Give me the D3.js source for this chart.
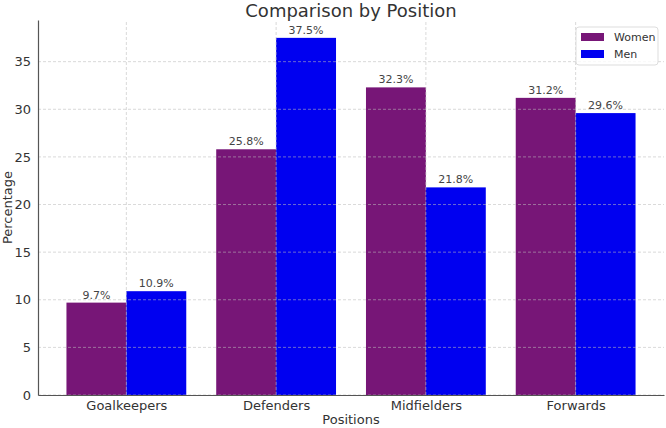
<!DOCTYPE html>
<html>
<head>
<meta charset="utf-8">
<script src="https://cdn.jsdelivr.net/npm/d3@7"></script>
<style>
  body { margin: 0; background: #fff; }
  svg { display: block; font-family: "DejaVu Sans", sans-serif; }
</style>
</head>
<body>
<div id="chart"></div>
<script>
var positions = ["Goalkeepers", "Defenders", "Midfielders", "Forwards"];
var women = [9.7, 25.8, 32.3, 31.2];
var men = [10.9, 37.5, 21.8, 29.6];
var yTicks = [0, 5, 10, 15, 20, 25, 30, 35];
var seriesNames = ["Women", "Men"];

var width = 666, height = 428;
var margin = { top: 20, right: 2, bottom: 33, left: 38 };
var colors = ["#771677", "#0000f0"];

var svg = d3.select("#chart").append("svg")
    .attr("width", width)
    .attr("height", height);

// x is a linear scale over category index, like matplotlib does it
var x = d3.scaleLinear()
    .domain([-0.59, 3.59])
    .range([margin.left, width - margin.right]);
var y = d3.scaleLinear()
    .domain([0, 39.375])
    .range([height - margin.bottom, margin.top]);
var barW = x(0.4) - x(0);

var series = [women, men];
series.forEach(function (vals, s) {
    vals.forEach(function (v, i) {
        var x0 = s === 0 ? x(i) - barW : x(i);
        svg.append("rect")
            .attr("x", x0)
            .attr("y", y(v))
            .attr("width", barW)
            .attr("height", y(0) - y(v))
            .attr("fill", colors[s]);
        svg.append("text")
            .attr("x", x0 + barW / 2)
            .attr("y", y(v) - 4)
            .attr("text-anchor", "middle")
            .attr("font-size", 11)
            .attr("fill", "#444")
            .text(v.toFixed(1) + "%");
    });
});

// grid on top of bars
svg.append("g").selectAll("line").data(yTicks).enter().append("line")
    .attr("x1", x.range()[0]).attr("x2", x.range()[1])
    .attr("y1", function (d) { return y(d); })
    .attr("y2", function (d) { return y(d); })
    .attr("stroke", "#bbb").attr("stroke-opacity", 0.7)
    .attr("stroke-dasharray", "3,2").attr("stroke-width", 0.8);
svg.append("g").selectAll("line").data(positions).enter().append("line")
    .attr("x1", function (d, i) { return x(i); })
    .attr("x2", function (d, i) { return x(i); })
    .attr("y1", y.range()[0]).attr("y2", y.range()[1])
    .attr("stroke", "#bbb").attr("stroke-opacity", 0.7)
    .attr("stroke-dasharray", "3,2").attr("stroke-width", 0.8);

// axes
var yAxis = svg.append("g")
    .attr("transform", "translate(" + margin.left + ",0)")
    .call(d3.axisLeft(y).tickValues(yTicks).tickSize(0).tickPadding(7));
var xAxis = svg.append("g")
    .attr("transform", "translate(0," + y(0) + ")")
    .call(d3.axisBottom(x).tickValues([0, 1, 2, 3])
        .tickFormat(function (d) { return positions[d]; })
        .tickSize(0).tickPadding(6));
[xAxis, yAxis].forEach(function (g) {
    g.select(".domain").attr("stroke", "#555").attr("stroke-width", 1.2);
    g.selectAll("text").attr("font-size", 13).attr("fill", "#333")
        .attr("font-family", "DejaVu Sans, sans-serif");
});

svg.append("text")
    .attr("x", (x.range()[0] + x.range()[1]) / 2)
    .attr("y", 17)
    .attr("text-anchor", "middle")
    .attr("font-size", 18)
    .attr("fill", "#333")
    .text("Comparison by Position");

svg.append("text")
    .attr("x", (x.range()[0] + x.range()[1]) / 2)
    .attr("y", 424)
    .attr("text-anchor", "middle")
    .attr("font-size", 13)
    .attr("fill", "#333")
    .text("Positions");

svg.append("text")
    .attr("transform", "translate(12," + (y.range()[0] + y.range()[1]) / 2 + ") rotate(-90)")
    .attr("text-anchor", "middle")
    .attr("font-size", 13)
    .attr("fill", "#333")
    .text("Percentage");

// legend
var legend = svg.append("g").attr("transform", "translate(576,27)");
legend.append("rect")
    .attr("width", 82).attr("height", 38).attr("rx", 3)
    .attr("fill", "#fff").attr("fill-opacity", 0.8)
    .attr("stroke", "#ddd");
seriesNames.forEach(function (name, i) {
    legend.append("rect")
        .attr("x", 5).attr("y", 6 + i * 17)
        .attr("width", 23).attr("height", 8)
        .attr("fill", colors[i]);
    legend.append("text")
        .attr("x", 38).attr("y", 14 + i * 17)
        .attr("font-size", 11).attr("fill", "#333")
        .text(name);
});
</script>
</body>
</html>
